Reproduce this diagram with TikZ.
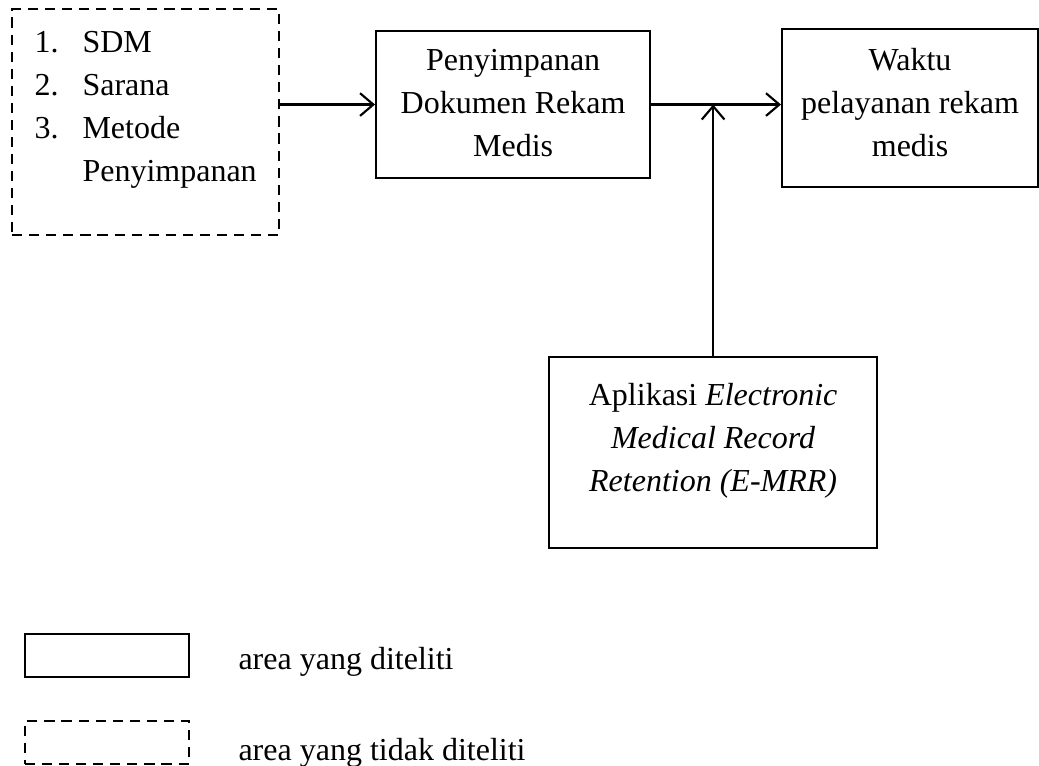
\documentclass[tikz,border=0pt]{standalone}
\usepackage{fontspec}
\setmainfont{Liberation Serif}
\usepackage{tikz}
\usetikzlibrary{calc}
\usetikzlibrary{positioning}
\usetikzlibrary{arrows.meta}

\tikzset{
  kotak/.style={draw,line width=0.8pt,inner sep=0pt,align=center},
  kotakputus/.style={kotak,dash pattern=on 3.8pt off 2.6pt},
  panah/.style={line width=0.8pt,-{Straight Barb[length=5pt,width=8.5pt,line width=0.8pt]}}
}

\begin{document}
\begin{tikzpicture}[x=1pt,y=-1pt,font=\fontsize{12}{16.1}\selectfont]
      \useasboundingbox (0,0) rectangle (389.6,286.9);
      % kotak-kotak utama
      \node[kotakputus,minimum width=100.1pt,minimum height=84.7pt] (faktor) at (54.6,45.8)
        {\begin{tabular}{@{}p{18pt}@{}l@{}}1. & SDM\\ 2. & Sarana\\ 3. & Metode\\ & Penyimpanan\\[10pt]\end{tabular}};
      \node[kotak,minimum width=102.75pt,minimum height=55.1pt] (tengah) at (192.4,39.2)
        {\begin{tabular}{@{}c@{}}Penyimpanan\\ Dokumen Rekam\\ Medis\end{tabular}};
      \node[kotak,minimum width=96pt,minimum height=59.2pt] (waktu) at (341.25,40.5)
        {\begin{tabular}{@{}c@{}}Waktu\\ pelayanan rekam\\ medis\\[2.6pt]\end{tabular}};
      \node[kotak,minimum width=123pt,minimum height=71.6pt] (aplikasi) at (267.4,169.7)
        {\begin{tabular}{@{}c@{}}Aplikasi \textit{Electronic}\\ \textit{Medical Record}\\ \textit{Retention (E-MRR)}\\[9.8pt]\end{tabular}};
      % panah
      \coordinate (temu) at (aplikasi.north |- tengah.east);
      \draw[panah] (tengah.west -| faktor.east) -- (tengah.west);
      \draw[panah] (tengah.east) -- (tengah.east -| waktu.west);
      \draw[panah] (aplikasi.north) -- (temu);
      % keterangan
      \node[kotak,minimum width=61.5pt,minimum height=16.1pt] (legenda1) at (40.1,245.8) {};
      \node[kotakputus,minimum width=61.5pt,minimum height=16.1pt] (legenda2) at (40.1,278.4) {};
      \node[anchor=base west] (ket1) at (85.9,250.9) {area yang diteliti};
      \node[anchor=base west] (ket2) at (85.9,285) {area yang tidak diteliti};
\end{tikzpicture}
\end{document}
